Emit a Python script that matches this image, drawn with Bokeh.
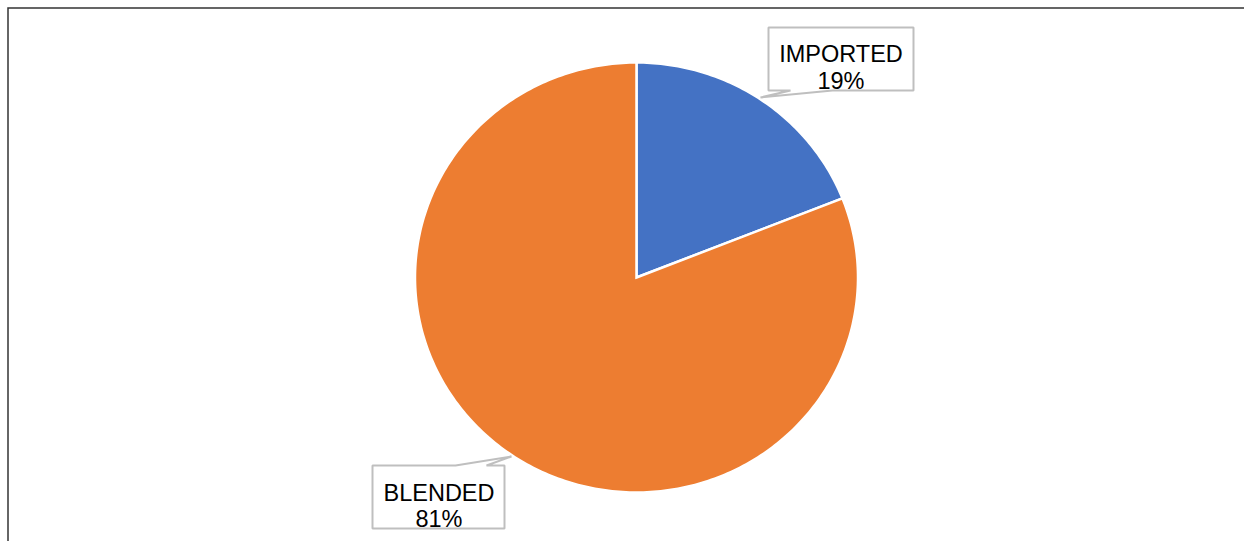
import math
from bokeh.plotting import figure
from bokeh.models import Range1d
from bokeh.core.properties import value
from bokeh.embed import file_html
from bokeh.resources import INLINE

# ---- data ----
categories = ["IMPORTED", "BLENDED"]
shares = [19, 81]
colors = ["#4472C4", "#ED7D31"]

# ---- layout (reference pixel coords) ----
W, H = 1244, 541

def X(px):
    return px

def Y(py):
    return H - py

p = figure(width=W, height=H, output_backend="svg", toolbar_location=None,
           x_range=Range1d(0, W), y_range=Range1d(0, H), min_border=0,
           outline_line_color=None)
p.xaxis.visible = False
p.yaxis.visible = False
p.grid.visible = False
p.background_fill_color = "white"
p.border_fill_color = "white"

# chart-area border (left and top edges visible)
p.line(x=[X(7.5), X(7.5), X(W + 5)], y=[Y(H + 5), Y(7.5), Y(7.5)],
       line_color="#333333", line_width=1.5, line_join="miter")

cx, cy = X(636), Y(277)
rx, ry = 221.5, 215.0
total = float(sum(shares))
angle = math.pi / 2
for cat, s, c in zip(categories, shares, colors):
    sweep = s / total * 2 * math.pi
    n = max(8, int(s * 4))
    xs, ys = [cx], [cy]
    for i in range(n + 1):
        a = angle - sweep * i / n
        xs.append(cx + rx * math.cos(a))
        ys.append(cy + ry * math.sin(a))
    p.patch(xs, ys, fill_color=c, line_color="white", line_width=2.5,
            line_join="miter")
    angle -= sweep

# label callout boxes
boxes = {
    "IMPORTED": dict(l=768, t=27, r=913, b=90, side="bottom", wa=790, wb=832,
                     tip=(760, 97), tx=840.5, b1=53, b2=80),
    "BLENDED": dict(l=372, t=465, r=504, b=528, side="top", wa=455, wb=486,
                    tip=(511, 456), tx=438.5, b1=492, b2=518),
}

for cat, s in zip(categories, shares):
    bx = boxes[cat]
    l, t, rr, b = bx["l"], bx["t"], bx["r"], bx["b"]
    if bx["side"] == "bottom":
        pts = [(l, t), (rr, t), (rr, b), (bx["wb"], b), bx["tip"], (bx["wa"], b), (l, b)]
    else:
        pts = [(l, t), (bx["wa"], t), bx["tip"], (bx["wb"], t), (rr, t), (rr, b), (l, b)]
    xs = [X(a) for a, _ in pts]
    ys = [Y(c) for _, c in pts]
    p.patch(xs, ys, fill_color="white", line_color="#BFBFBF", line_width=2)
    for txt, base in ((cat, bx["b1"]), (f"{s}%", bx["b2"])):
        p.text(x=[X(bx["tx"])], y=[Y(base)], text=[txt],
               text_font=value("Liberation Sans"), text_font_size="23.5px",
               text_align="center", text_baseline="alphabetic", text_color="#000000")

open("out.html", "w").write(file_html(p, INLINE))
